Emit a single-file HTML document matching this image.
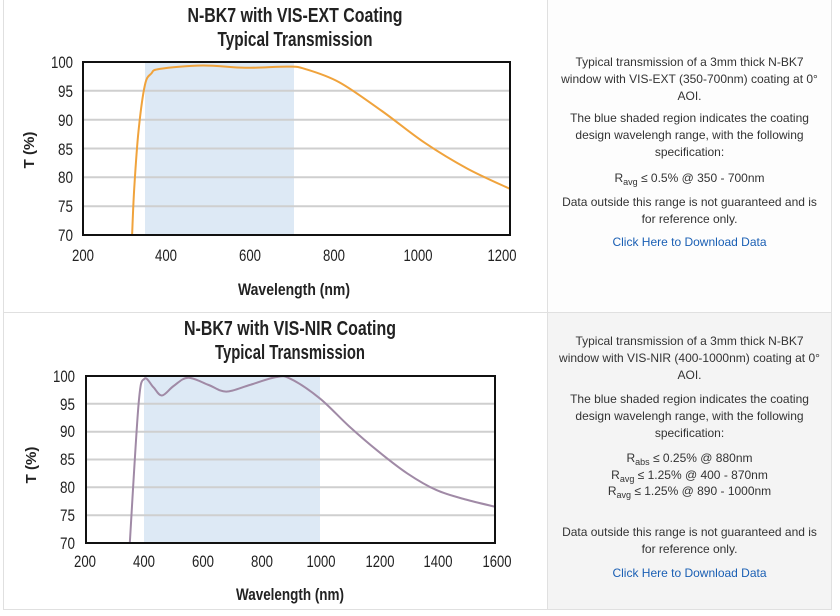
<!DOCTYPE html>
<html><head><meta charset="utf-8"><style>
body{margin:0;width:840px;height:616px;background:#fff;position:relative;overflow:hidden;font-family:"Liberation Sans",sans-serif}
.cell{position:absolute;box-sizing:border-box}
.t{position:absolute;left:550px;width:279px;text-align:center;font-size:12px;color:#333;line-height:17px;letter-spacing:0}
.t a{color:#1a5fb4;text-decoration:none}
sub{font-size:9px;vertical-align:-3px;line-height:0}
</style></head><body>
<div class="cell" style="left:3px;top:0;width:545px;height:313px;border:1px solid #e0e0e0;border-top:none"></div>
<div class="cell" style="left:547px;top:0;width:285px;height:313px;border:1px solid #e0e0e0;border-top:none;background:#fdfdfd"></div>
<div class="cell" style="left:3px;top:312px;width:545px;height:298px;border:1px solid #e0e0e0"></div>
<div class="cell" style="left:547px;top:312px;width:285px;height:298px;border:1px solid #e0e0e0;background:#f4f4f4"></div>

<svg width="840" height="616" style="position:absolute;left:0;top:0" font-family="Liberation Sans Narrow, Liberation Sans, sans-serif">
<rect x="145" y="62" width="149" height="173" fill="#dde9f5"/>
<g stroke="#cfcfcf" stroke-width="2">
<line x1="83" x2="510" y1="90.8" y2="90.8"/><line x1="83" x2="510" y1="119.7" y2="119.7"/><line x1="83" x2="510" y1="148.5" y2="148.5"/><line x1="83" x2="510" y1="177.3" y2="177.3"/><line x1="83" x2="510" y1="206.2" y2="206.2"/>
</g>
<polyline class="sm" fill="none" stroke="#f0a33c" stroke-width="2" stroke-linejoin="round" points="132.1,235 134.2,188.9 138.5,131.2 144.9,85.1 151.3,73.5 159.9,68.9 202.6,65.5 245.3,67.8 288,66.6 305,68.9 339.2,82.2 381.9,111 424.6,142.7 467.3,168.6 510,188.9"/>
<rect x="83" y="62" width="427" height="173" fill="none" stroke="#111" stroke-width="2"/>
<g font-weight="bold" font-size="20" text-anchor="middle" fill="#222">
<text x="295" y="22" textLength="215" lengthAdjust="spacingAndGlyphs">N-BK7 with VIS-EXT Coating</text>
<text x="295" y="46" textLength="155" lengthAdjust="spacingAndGlyphs">Typical Transmission</text>
</g>
<g font-size="17" fill="#222" text-anchor="end">
<text x="73" y="68" textLength="22" lengthAdjust="spacingAndGlyphs">100</text><text x="73" y="97" textLength="15" lengthAdjust="spacingAndGlyphs">95</text><text x="73" y="126" textLength="15" lengthAdjust="spacingAndGlyphs">90</text><text x="73" y="155" textLength="15" lengthAdjust="spacingAndGlyphs">85</text><text x="73" y="183" textLength="15" lengthAdjust="spacingAndGlyphs">80</text><text x="73" y="212" textLength="15" lengthAdjust="spacingAndGlyphs">75</text><text x="73" y="241" textLength="15" lengthAdjust="spacingAndGlyphs">70</text>
</g>
<g font-size="17" fill="#222" text-anchor="middle">
<text x="83" y="261" textLength="22" lengthAdjust="spacingAndGlyphs">200</text><text x="166" y="261" textLength="22" lengthAdjust="spacingAndGlyphs">400</text><text x="250" y="261" textLength="22" lengthAdjust="spacingAndGlyphs">600</text><text x="334" y="261" textLength="22" lengthAdjust="spacingAndGlyphs">800</text><text x="418" y="261" textLength="29" lengthAdjust="spacingAndGlyphs">1000</text><text x="502" y="261" textLength="29" lengthAdjust="spacingAndGlyphs">1200</text>
</g>
<text x="294" y="295" font-size="17" font-weight="bold" text-anchor="middle" fill="#222" textLength="112" lengthAdjust="spacingAndGlyphs">Wavelength (nm)</text>
<text transform="translate(34,150) rotate(-90)" font-size="15" font-weight="bold" text-anchor="middle" fill="#222">T (%)</text>

<rect x="144" y="376" width="176" height="167" fill="#dde9f5"/>
<g stroke="#cfcfcf" stroke-width="2">
<line x1="86" x2="495" y1="403.8" y2="403.8"/><line x1="86" x2="495" y1="431.7" y2="431.7"/><line x1="86" x2="495" y1="459.5" y2="459.5"/><line x1="86" x2="495" y1="487.3" y2="487.3"/><line x1="86" x2="495" y1="515.2" y2="515.2"/>
</g>
<polyline class="sm" fill="none" stroke="#a08aa6" stroke-width="2" stroke-linejoin="round" points="129.8,543 138.6,403.8 144.4,378.8 153.2,387 161.9,395.5 173.6,386 188.2,377.7 208.7,385 226.2,391.6 249.6,385 275.9,377.1 290.5,378.8 319.7,398.3 348.9,426.1 378.1,451.2 407.3,473.4 436.5,490.1 465.7,499.5 495,506.7"/>
<rect x="86" y="376" width="409" height="167" fill="none" stroke="#111" stroke-width="2"/>
<g font-weight="bold" font-size="20" text-anchor="middle" fill="#222">
<text x="290" y="335" textLength="212" lengthAdjust="spacingAndGlyphs">N-BK7 with VIS-NIR Coating</text>
<text x="290" y="359" textLength="150" lengthAdjust="spacingAndGlyphs">Typical Transmission</text>
</g>
<g font-size="17" fill="#222" text-anchor="end">
<text x="75" y="382" textLength="22" lengthAdjust="spacingAndGlyphs">100</text><text x="75" y="410" textLength="15" lengthAdjust="spacingAndGlyphs">95</text><text x="75" y="437" textLength="15" lengthAdjust="spacingAndGlyphs">90</text><text x="75" y="465" textLength="15" lengthAdjust="spacingAndGlyphs">85</text><text x="75" y="493" textLength="15" lengthAdjust="spacingAndGlyphs">80</text><text x="75" y="521" textLength="15" lengthAdjust="spacingAndGlyphs">75</text><text x="75" y="549" textLength="15" lengthAdjust="spacingAndGlyphs">70</text>
</g>
<g font-size="17" fill="#222" text-anchor="middle">
<text x="85" y="567" textLength="22" lengthAdjust="spacingAndGlyphs">200</text><text x="144" y="567" textLength="22" lengthAdjust="spacingAndGlyphs">400</text><text x="203" y="567" textLength="22" lengthAdjust="spacingAndGlyphs">600</text><text x="262" y="567" textLength="22" lengthAdjust="spacingAndGlyphs">800</text><text x="321" y="567" textLength="29" lengthAdjust="spacingAndGlyphs">1000</text><text x="380" y="567" textLength="29" lengthAdjust="spacingAndGlyphs">1200</text><text x="438" y="567" textLength="29" lengthAdjust="spacingAndGlyphs">1400</text><text x="497" y="567" textLength="29" lengthAdjust="spacingAndGlyphs">1600</text>
</g>
<text x="290" y="600" font-size="17" font-weight="bold" text-anchor="middle" fill="#222" textLength="108" lengthAdjust="spacingAndGlyphs">Wavelength (nm)</text>
<text transform="translate(36,465) rotate(-90)" font-size="15" font-weight="bold" text-anchor="middle" fill="#222">T (%)</text>
</svg>

<div class="t" style="top:54px">Typical transmission of a 3mm thick N-BK7<br>window with VIS-EXT (350-700nm) coating at 0°<br>AOI.</div>
<div class="t" style="top:110px">The blue shaded region indicates the coating<br>design wavelengh range, with the following<br>specification:</div>
<div class="t" style="top:170px">R<sub>avg</sub> ≤ 0.5% @ 350 - 700nm</div>
<div class="t" style="top:194px">Data outside this range is not guaranteed and is<br>for reference only.</div>
<div class="t" style="top:234px"><a>Click Here to Download Data</a></div>

<div class="t" style="top:333px">Typical transmission of a 3mm thick N-BK7<br>window with VIS-NIR (400-1000nm) coating at 0°<br>AOI.</div>
<div class="t" style="top:391px">The blue shaded region indicates the coating<br>design wavelengh range, with the following<br>specification:</div>
<div class="t" style="top:450px;line-height:16.5px">R<sub>abs</sub> ≤ 0.25% @ 880nm<br>R<sub>avg</sub> ≤ 1.25% @ 400 - 870nm<br>R<sub>avg</sub> ≤ 1.25% @ 890 - 1000nm</div>
<div class="t" style="top:524px">Data outside this range is not guaranteed and is<br>for reference only.</div>
<div class="t" style="top:565px"><a>Click Here to Download Data</a></div>
<script>
document.querySelectorAll('polyline.sm').forEach(function(pl){
var p=pl.getAttribute('points').trim().split(/\s+/).map(function(s){return s.split(',').map(Number)});
var d='M'+p[0][0]+','+p[0][1];
for(var i=0;i<p.length-1;i++){var a=p[i-1]||p[i],b=p[i],c=p[i+1],e=p[i+2]||c;
d+=' C'+(b[0]+(c[0]-a[0])/6)+','+(b[1]+(c[1]-a[1])/6)+' '+(c[0]-(e[0]-b[0])/6)+','+(c[1]-(e[1]-b[1])/6)+' '+c[0]+','+c[1];}
var path=document.createElementNS('http://www.w3.org/2000/svg','path');
['fill','stroke','stroke-width'].forEach(function(k){path.setAttribute(k,pl.getAttribute(k))});
path.setAttribute('d',d);pl.parentNode.replaceChild(path,pl);});
</script>
</body></html>
